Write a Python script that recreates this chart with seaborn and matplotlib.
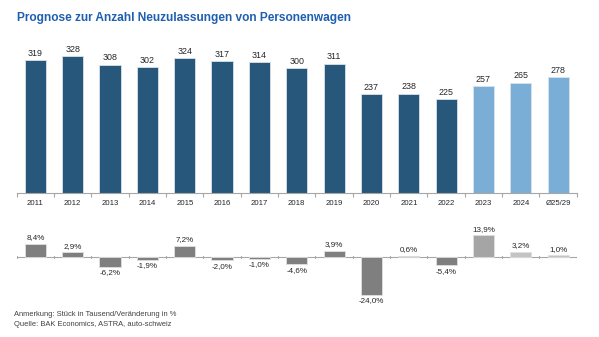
import matplotlib
matplotlib.use("Agg")
import matplotlib.pyplot as plt
import seaborn as sns
import pandas as pd
import numpy as np

categories = ["2011", "2012", "2013", "2014", "2015", "2016", "2017", "2018",
              "2019", "2020", "2021", "2022", "2023", "2024", "Ø25/29"]
units = [319, 328, 308, 302, 324, 317, 314, 300, 311, 237, 238, 225, 257, 265, 278]
changes = [8.4, 2.9, -6.2, -1.9, 7.2, -2.0, -1.0, -4.6, 3.9, -24.0, 0.6, -5.4, 13.9, 3.2, 1.0]
kind = ["hist"] * 12 + ["f1", "f2", "f2"]

top_pal = {"hist": "#27577A", "f1": "#7BAED6", "f2": "#7BAED6"}
bot_pal = {"hist": "#7F7F7F", "f1": "#A5A5A5", "f2": "#C3C3C3"}

df = pd.DataFrame({"cat": categories, "units": units, "chg": changes, "kind": kind})

sns.set_theme(style="white")
plt.rcParams["font.family"] = ["Liberation Sans", "DejaVu Sans"]

fig = plt.figure(figsize=(5.99, 3.37), dpi=100)
ax1 = fig.add_axes([0.028, 0.427, 0.935, 0.445])
ax2 = fig.add_axes([0.028, 0.107, 0.935, 0.205])

sns.barplot(data=df, x="cat", y="units", hue="kind", palette=top_pal, dodge=False,
            legend=False, width=0.57, ax=ax1, saturation=1, edgecolor="#D9E2EA", linewidth=0.6)
sns.barplot(data=df, x="cat", y="chg", hue="kind", palette=bot_pal, dodge=False,
            legend=False, width=0.57, ax=ax2, saturation=1, edgecolor="#E0E0E0", linewidth=0.6)

n = len(categories)
for ax in (ax1, ax2):
    ax.set_xlim(-0.5, n - 0.5)
    ax.set_xlabel("")
    ax.set_ylabel("")
    ax.set_yticks([])
    for s in ax.spines.values():
        s.set_visible(False)

ax1.set_ylim(0, 360)
ax1.spines["bottom"].set_visible(True)
ax1.spines["bottom"].set_color("#A6A6A6")
ax1.spines["bottom"].set_linewidth(0.8)
ax1.set_xticks(range(n))
ax1.set_xticklabels(categories, fontsize=5.6, color="#262626")
ax1.tick_params(axis="x", length=0, pad=5)
ax1.set_xticks(np.arange(-0.5, n, 1), minor=True)
ax1.tick_params(axis="x", which="minor", length=3, color="#A6A6A6", width=0.8, direction="out", bottom=True)

for i, v in enumerate(units):
    ax1.text(i, v + 6, f"{v}", ha="center", va="bottom", fontsize=6.4, color="#262626")

ax2.set_ylim(-28, 16)
ax2.axhline(0, color="#A6A6A6", lw=0.8, zorder=0)
ax2.set_xticks([])
ax2.set_xticks(np.arange(-0.5, n, 1), minor=True)
ax2.tick_params(axis="x", which="minor", length=0)
for xm in np.arange(-0.5, n, 1):
    ax2.plot([xm, xm], [-0.6, 0.6], color="#A6A6A6", lw=0.8, zorder=0)

for i, v in enumerate(changes):
    txt = f"{v:.1f}%".replace(".", ",")
    if v >= 0:
        ax2.text(i, v + 1.6, txt, ha="center", va="bottom", fontsize=5.8, color="#262626")
    else:
        ax2.text(i, v - 1.6, txt, ha="center", va="top", fontsize=5.8, color="#262626")

fig.text(0.028, 0.948, "Prognose zur Anzahl Neuzulassungen von Personenwagen",
         fontsize=8.6, fontweight="bold", color="#1F5FAF", ha="left", va="center")
fig.text(0.023, 0.068, "Anmerkung: Stück in Tausend/Veränderung in %",
         fontsize=5.4, color="#404040", ha="left", va="center")
fig.text(0.023, 0.038, "Quelle: BAK Economics, ASTRA, auto-schweiz",
         fontsize=5.4, color="#404040", ha="left", va="center")

fig.savefig("out.png", dpi=100)
